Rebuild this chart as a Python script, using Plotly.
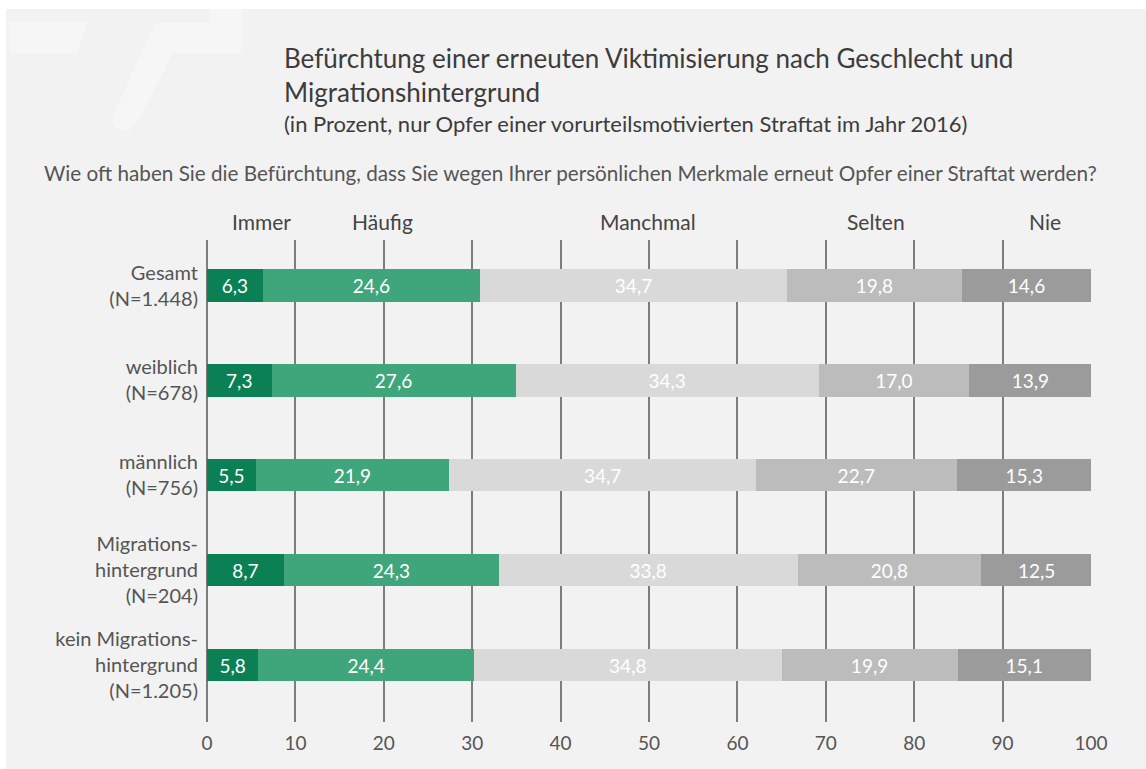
import plotly.graph_objects as go

# data
groups = ["Gesamt<br>(N=1.448)", "weiblich<br>(N=678)", "männlich<br>(N=756)",
          "Migrations-<br>hintergrund<br>(N=204)", "kein Migrations-<br>hintergrund<br>(N=1.205)"]
answers = ["Immer", "Häufig", "Manchmal", "Selten", "Nie"]
immer = [6.3, 7.3, 5.5, 8.7, 5.8]
haeufig = [24.6, 27.6, 21.9, 24.3, 24.4]
manchmal = [34.7, 34.3, 34.7, 33.8, 34.8]
selten = [19.8, 17.0, 22.7, 20.8, 19.9]
nie = [14.6, 13.9, 15.3, 12.5, 15.1]
x_ticks = [0, 10, 20, 30, 40, 50, 60, 70, 80, 90, 100]

series = [immer, haeufig, manchmal, selten, nie]
colors = ["#0b8055", "#3fa67b", "#d9d9d9", "#bcbcbc", "#9b9b9b"]
header_x = [6.2, 19.8, 49.9, 75.7, 94.8]

FONT = "Lato"
W, H = 1146, 769
L, R, T, B = 207, 55, 240, 47


def px2paper(x, y):
    return (x - L) / (W - L - R), (H - B - y) / (H - T - B)


def path(points):
    pts = [px2paper(x, y) for x, y in points]
    return "M " + " L ".join(f"{a:.4f},{b:.4f}" for a, b in pts) + " Z"


fig = go.Figure()
for name, vals, col in zip(answers, series, colors):
    fig.add_trace(go.Bar(
        y=groups, x=vals, name=name, orientation="h",
        marker=dict(color=col, line=dict(width=0)),
        texttemplate="%{x:.1f}", textposition="inside",
        insidetextanchor="middle", constraintext="none",
        textfont=dict(family=FONT, size=19, color="#ffffff"),
        width=0.34, showlegend=False,
    ))

logo = "#f6f6f6"
shapes = [
    # white frame edges
    dict(type="rect", xref="paper", yref="paper", layer="below",
         x0=px2paper(0, 0)[0], x1=px2paper(6, 0)[0],
         y0=px2paper(0, H)[1], y1=px2paper(0, 0)[1],
         fillcolor="#ffffff", line=dict(width=0)),
    dict(type="rect", xref="paper", yref="paper", layer="below",
         x0=px2paper(0, 0)[0], x1=px2paper(W, 0)[0],
         y0=px2paper(0, 9)[1], y1=px2paper(0, 0)[1],
         fillcolor="#ffffff", line=dict(width=0)),
    # faint logo in the corner
    dict(type="path", xref="paper", yref="paper", layer="below",
         path=path([(10, 22), (88, 22), (77, 53), (10, 53)]),
         fillcolor=logo, line=dict(width=0)),
    dict(type="path", xref="paper", yref="paper", layer="below",
         path=path([(155, 23), (210, 23), (210, 9), (242, 9), (242, 53), (173, 53),
                    (138, 122), (128, 130), (116, 129), (111, 120)]),
         fillcolor=logo, line=dict(width=0)),
]

annotations = [
    dict(text="Befürchtung einer erneuten Viktimisierung nach Geschlecht und<br>Migrationshintergrund",
         x=px2paper(282, 0)[0], y=px2paper(0, 40)[1], xref="paper", yref="paper",
         xanchor="left", yanchor="top", align="left", showarrow=False,
         font=dict(family=FONT, size=26, color="#3c3c3c")),
    dict(text="(in Prozent, nur Opfer einer vorurteilsmotivierten Straftat im Jahr 2016)",
         x=px2paper(282, 0)[0], y=px2paper(0, 108)[1], xref="paper", yref="paper",
         xanchor="left", yanchor="top", align="left", showarrow=False,
         font=dict(family=FONT, size=22, color="#3c3c3c")),
    dict(text="Wie oft haben Sie die Befürchtung, dass Sie wegen Ihrer persönlichen Merkmale erneut Opfer einer Straftat werden?",
         x=px2paper(42, 0)[0], y=px2paper(0, 159)[1], xref="paper", yref="paper",
         xanchor="left", yanchor="top", align="left", showarrow=False,
         font=dict(family=FONT, size=20.7, color="#555555")),
]
for label, hx in zip(answers, header_x):
    annotations.append(dict(
        text=label, x=hx, y=px2paper(0, 222)[1], xref="x", yref="paper",
        xanchor="center", yanchor="middle", showarrow=False,
        font=dict(family=FONT, size=21, color="#444444")))

fig.update_layout(
    width=W, height=H,
    barmode="stack",
    separators=",.",
    paper_bgcolor="#f2f2f2",
    plot_bgcolor="rgba(0,0,0,0)",
    margin=dict(l=L, r=R, t=T, b=B),
    font=dict(family=FONT, color="#555555"),
    shapes=shapes,
    annotations=annotations,
    xaxis=dict(
        range=[0, 100], tickvals=x_ticks,
        showgrid=True, gridcolor="#7d7d7d", gridwidth=1.5,
        zeroline=True, zerolinecolor="#7d7d7d", zerolinewidth=1.5,
        showline=False, ticks="", ticklabelstandoff=8,
        tickfont=dict(family=FONT, size=19, color="#555555"),
        fixedrange=True,
    ),
    yaxis=dict(
        type="category", categoryorder="array", categoryarray=groups,
        range=[4.6, -0.48], showgrid=False, zeroline=False, showline=False,
        ticks="", ticklabelstandoff=8,
        tickfont=dict(family=FONT, size=20, color="#555555"),
        fixedrange=True,
    ),
)

fig.write_html("out.html", config={"displayModeBar": False},
               post_script="document.body.style.margin='0px';")
